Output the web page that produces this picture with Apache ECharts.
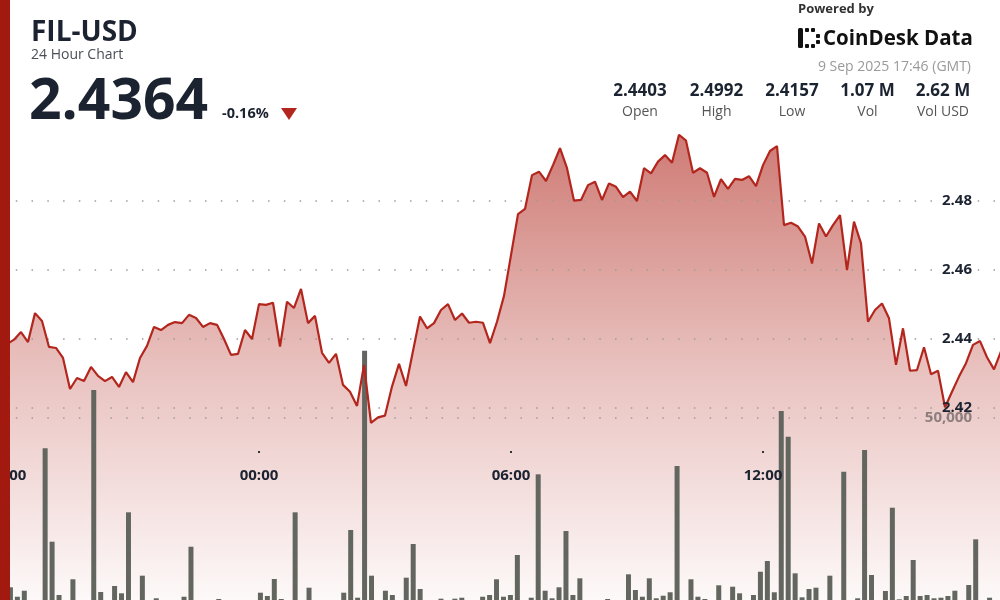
<!DOCTYPE html>
<html><head><meta charset="utf-8">
<script src="https://cdn.jsdelivr.net/npm/echarts@6/dist/echarts.min.js"></script>
<style>html,body{margin:0;padding:0;background:#fff;overflow:hidden}#c{width:1000px;height:600px}</style>
</head><body><div id="c"></div>
<script>
// ---- data ----
const pair = 'FIL-USD';
const subtitle = '24 Hour Chart';
const lastPrice = '2.4364';
const changePct = '-0.16%';
const stamp = '9 Sep 2025 17:46 (GMT)';
const statValues = ['2.4403', '2.4992', '2.4157', '1.07 M', '2.62 M'];
const statNames = ['Open', 'High', 'Low', 'Vol', 'Vol USD'];
const timeLabels = ['18:00', '00:00', '06:00', '12:00'];
const priceTicks = [2.42, 2.44, 2.46, 2.48];
const volTickLabel = '50,000';
// price every 10 minutes, first point 17:50 (minutes from 18:00 = -10)
const prices = [
 2.4390,2.4385,2.4398,2.4420,2.4391,2.4475,2.4452,2.4377,2.4374,2.4345,
 2.4255,2.4287,2.4278,2.4319,2.4293,2.4278,2.4290,2.4261,2.4304,2.4275,
 2.4345,2.4380,2.4435,2.4426,2.4441,2.4449,2.4446,2.4470,2.4461,2.4435,
 2.4446,2.4441,2.4400,2.4354,2.4357,2.4426,2.4400,2.4501,2.4499,2.4505,
 2.4378,2.4508,2.4490,2.4545,2.4446,2.4467,2.4360,2.4331,2.4357,2.4267,
 2.4247,2.4206,2.4325,2.4157,2.4173,2.4178,2.4262,2.4328,2.4264,2.4365,
 2.4465,2.4431,2.4446,2.4484,2.4501,2.4455,2.4474,2.4447,2.4450,2.4447,
 2.4388,2.4450,2.4525,2.4643,2.4762,2.4777,2.4875,2.4885,2.4858,2.4904,
 2.4953,2.4895,2.4801,2.4803,2.4846,2.4856,2.4803,2.4851,2.4841,2.4811,
 2.4827,2.4800,2.4895,2.4880,2.4914,2.4933,2.4911,2.4992,2.4975,2.4882,
 2.4895,2.4882,2.4812,2.4863,2.4835,2.4864,2.4861,2.4872,2.4843,2.4904,
 2.4945,2.4959,2.4730,2.4737,2.4726,2.4697,2.4619,2.4735,2.4697,2.4730,
 2.4759,2.4600,2.4740,2.4677,2.4450,2.4484,2.4503,2.4460,2.4325,2.4431,
 2.4308,2.4310,2.4376,2.4298,2.4308,2.4202,2.4247,2.4291,2.4330,2.4383,
 2.4394,2.4347,2.4312,2.4364
];
const volumes = [
 3000,3490,900,2550,0,0,41670,16020,1370,0,
 5690,0,0,57690,2200,0,3850,1840,24090,0,
 6680,0,470,0,0,0,900,14640,0,0,
 0,270,0,0,0,0,0,2010,1100,5770,
 270,0,24090,0,3380,0,0,0,0,2010,
 19230,630,68480,6680,0,2550,1370,0,6130,15380,
 3020,0,0,360,0,360,630,0,0,900,
 1370,5690,900,1370,12360,0,630,34530,2550,470,
 3490,18950,1370,5960,0,0,0,270,0,0,
 7060,2750,900,5960,470,1180,2120,36810,0,5690,
 900,270,0,4040,0,3650,1840,0,1370,7770,
 10710,2120,51920,44860,7330,740,3020,3380,0,6680,
 0,35240,0,470,41200,6870,0,2470,25350,190,
 1100,10990,1100,1370,470,630,1100,2550,0,4120,
 16670,0,630,0
];

// ---- layout ----
const W = 1000, H = 600;
const y242 = 408, pxPerUnit = 3450;      // pixel y of 2.42, px per 1.0 price
const pxPerMin = 0.7, xAt18 = 7;         // x of 18:00 and px per minute
const FONT = "'Open Sans','Noto Sans',sans-serif";
const NAVY = '#1b2230';
const RED = '#b3261e';

const priceMin = 2.42 - (H - y242) / pxPerUnit;
const priceMax = 2.42 + y242 / pxPerUnit;
const lineData = prices.map((p, i) => [-10 + 10 * i, p]);
const volCats = volumes.map((v, i) => String(i));

const chart = echarts.init(document.getElementById('c'), null, {renderer: 'canvas'});

const T = (x, y, text, font, fill, align) => ({type: 'text', x: x, y: y, z: 100,
  style: {text: text, fill: fill, font: font, textAlign: align || 'left', align: align || 'left',
          textVerticalAlign: 'middle', verticalAlign: 'middle'}});

const graphic = [
  {type: 'rect', shape: {x: 0, y: 0, width: 10, height: H}, style: {fill: '#a2190f'}, z: 100},
  T(31, 33, pair, 'bold 28px ' + FONT, NAVY),
  T(31, 55, subtitle, '14px ' + FONT, '#4a4f57'),
  T(29, 103, lastPrice, 'bold 57px ' + FONT, NAVY),
  T(222, 114, changePct, 'bold 14.5px ' + FONT, NAVY),
  {type: 'polygon', shape: {points: [[281, 108], [297, 108], [289, 120]]}, style: {fill: RED}, z: 100},
  T(798, 9, 'Powered by', 'bold 13px ' + FONT, '#333'),
  // logo mark
  {type: 'rect', shape: {x: 798, y: 28, width: 5, height: 20, r: 1.5}, style: {fill: '#111'}, z: 100},
  {type: 'rect', shape: {x: 805, y: 28, width: 4, height: 4, r: 1}, style: {fill: '#111'}, z: 100},
  {type: 'rect', shape: {x: 811, y: 28, width: 4, height: 4, r: 1}, style: {fill: '#111'}, z: 100},
  {type: 'rect', shape: {x: 805, y: 44, width: 4, height: 4, r: 1}, style: {fill: '#111'}, z: 100},
  {type: 'rect', shape: {x: 811, y: 44, width: 4, height: 4, r: 1}, style: {fill: '#111'}, z: 100},
  {type: 'rect', shape: {x: 816, y: 34, width: 4, height: 4, r: 1}, style: {fill: '#111'}, z: 100},
  {type: 'rect', shape: {x: 816, y: 40, width: 4, height: 4, r: 1}, style: {fill: '#111'}, z: 100},
  T(823, 39, 'CoinDesk Data', 'bold 20.5px ' + FONT, '#111'),
  T(971, 67, stamp, '14px ' + FONT, '#9a9a9a', 'right')
];
const statCenters = [640, 716.5, 792, 867.5, 943];
statValues.forEach((v, i) => {
  graphic.push(T(statCenters[i], 91, v, 'bold 17px ' + FONT, NAVY, 'center'));
  graphic.push(T(statCenters[i], 112, statNames[i], '14px ' + FONT, '#555', 'center'));
});

const dotLine = {color: '#9c9c9c', width: 1.5, type: [1.5, 14.27]};
const G = o => Object.assign({outerBoundsMode: 'none', containLabel: false}, o);

const option = {
  animation: false,
  backgroundColor: '#fff',
  graphic: graphic,
  grid: [
    G({left: 0, right: 0, top: 0, bottom: 0}),            // 0 price series
    G({left: 0, right: 0, top: 201, bottom: H - y242}),   // 1 price grid lines/labels
    G({left: 0, right: 0, top: 236, bottom: 0}),          // 2 volume
    G({left: xAt18, right: 0, top: 0, bottom: 149})       // 3 time labels
  ],
  xAxis: [
    {type: 'value', gridIndex: 0, min: -10, max: -10 + W / pxPerMin, show: false},
    {type: 'value', gridIndex: 1, min: 0, max: 1, show: false},
    {type: 'category', gridIndex: 2, data: volCats, boundaryGap: true, show: false},
    {type: 'value', gridIndex: 3, min: 0, max: (W - xAt18) / pxPerMin, interval: 360,
      axisLine: {show: false}, splitLine: {show: false}, z: 10,
      axisTick: {show: true, length: 2, lineStyle: {color: '#333', width: 2}},
      axisLabel: {margin: 17, color: NAVY, fontWeight: 'bold', fontSize: 15, fontFamily: FONT,
        showMaxLabel: false, hideOverlap: false,
        formatter: v => { const k = Math.round(v / 360); return Math.abs(v - k * 360) < 1e-6 && timeLabels[k] ? timeLabels[k] : ''; }}
    }
  ],
  yAxis: [
    {type: 'value', gridIndex: 0, min: priceMin, max: priceMax, show: false},
    {type: 'value', gridIndex: 1, min: priceTicks[0], max: priceTicks[priceTicks.length - 1], interval: 0.02,
      position: 'right', z: 1.5, axisLine: {show: false}, axisTick: {show: false}, axisLabel: {show: false},
      splitLine: {show: true, showMinLine: true, showMaxLine: true, lineStyle: dotLine}},
    {type: 'value', gridIndex: 1, min: priceTicks[0], max: priceTicks[priceTicks.length - 1], interval: 0.02,
      position: 'right', z: 10, axisLine: {show: false}, axisTick: {show: false}, splitLine: {show: false},
      axisLabel: {inside: true, margin: 28, color: NAVY, fontWeight: 'bold', fontSize: 15, fontFamily: FONT,
        formatter: v => v.toFixed(2)}},
    {type: 'value', gridIndex: 2, min: 0, max: 100000, interval: 50000, position: 'right', z: 1.5,
      axisLine: {show: false}, axisTick: {show: false},
      splitLine: {show: true, showMinLine: false, showMaxLine: false, lineStyle: dotLine},
      axisLabel: {inside: true, margin: 28, color: 'rgba(110,100,100,0.75)', fontWeight: 'bold', fontSize: 15, fontFamily: FONT,
        showMinLabel: false, showMaxLabel: false,
        formatter: v => v === 50000 ? volTickLabel : ''}},
    {type: 'value', gridIndex: 3, show: false}
  ],
  series: [
    {type: 'line', name: 'area', xAxisIndex: 0, yAxisIndex: 0, data: lineData, symbol: 'none', z: 1,
      lineStyle: {width: 0, opacity: 0},
      areaStyle: {origin: 'start', color: new echarts.graphic.LinearGradient(0, 0, 0, 1, [
        {offset: 0, color: 'rgba(175,35,25,0.86)'},
        {offset: 0.5, color: 'rgba(175,35,25,0.40)'},
        {offset: 1, color: 'rgba(175,35,25,0.04)'}
      ])}},
    {type: 'bar', name: 'vol', xAxisIndex: 2, yAxisIndex: 3, data: volumes, barWidth: 5, z: 2, clip: false,
      itemStyle: {color: '#62665f'}},
    {type: 'line', name: 'price', xAxisIndex: 0, yAxisIndex: 0, data: lineData, symbol: 'none', z: 3,
      lineStyle: {color: RED, width: 2.2}}
  ]
};
chart.setOption(option);
</script>
</body></html>
